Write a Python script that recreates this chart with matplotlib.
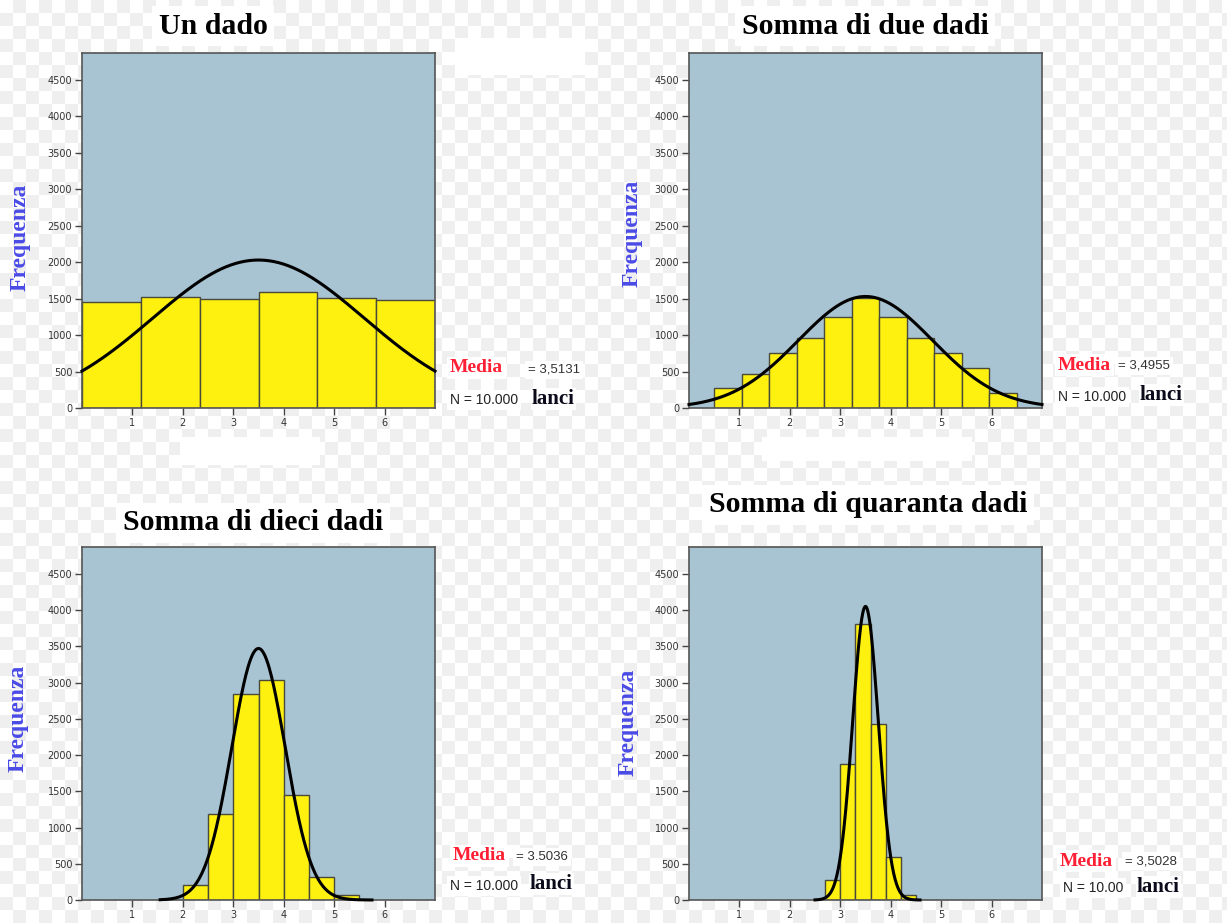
#Histograms of die rolls (1, 2, 10 and 40 dice) with a normal curve on top
import matplotlib.pyplot as plt
from matplotlib.patches import Rectangle
import numpy as np

W, H = 1227, 923

#titles and summary text
titles = ["Un dado", "Somma di due dadi", "Somma di dieci dadi", "Somma di quaranta dadi"]
means_txt = ["= 3,5131", "= 3,4955", "= 3.5036", "= 3,5028"]
n_txt = ["N = 10.000", "N = 10.000", "N = 10.000", "N = 10.00"]

#histogram bin edges (left edge of first bin, right edge of last) and counts
edges_1 = [0.0, 7.0]
counts_1 = [1450, 1520, 1490, 1590, 1515, 1485]
edges_2 = [0.5, 6.5]
counts_2 = [275, 470, 760, 960, 1245, 1510, 1245, 960, 760, 545, 210]
edges_10 = [2.0, 5.5]
counts_10 = [210, 1180, 2840, 3040, 1450, 315, 70]
edges_40 = [2.7, 4.5]
counts_40 = [270, 1870, 3810, 2430, 590, 70]

#normal curve: centre, spread, height, drawn range
curve_mu = [3.5, 3.5, 3.5, 3.5]
curve_sd = [2.1, 1.33, 0.53, 0.255]
curve_peak = [2030, 1530, 3470, 4050]
curve_range = [(0.0, 7.0), (0.0, 7.0), (1.55, 5.75), (2.5, 4.58)]

all_edges = [edges_1, edges_2, edges_10, edges_40]
all_counts = [counts_1, counts_2, counts_10, counts_40]

yticks = list(range(0, 5000, 500))
xticks = [1, 2, 3, 4, 5, 6]

fig = plt.figure(figsize=(W / 100, H / 100), dpi=100)

#checkerboard background (like a transparent screenshot)
bg = fig.add_axes([0, 0, 1, 1], zorder=-10)
cell = 13
ny, nx = H // cell + 1, W // cell + 1
checker = (np.indices((ny, nx)).sum(axis=0) % 2).astype(float)
bg.imshow(checker, cmap=plt.matplotlib.colors.ListedColormap(["#ffffff", "#efefef"]),
          extent=[0, nx * cell, ny * cell, 0], interpolation="nearest", aspect="auto")
bg.set_xlim(0, W)
bg.set_ylim(H, 0)
bg.axis("off")
#some white patches left over in the original picture
for (x0, y0, w, h) in [(455, 38, 130, 37), (180, 437, 140, 28), (762, 437, 210, 24)]:
    bg.add_patch(Rectangle((x0, y0), w, h, color="white", lw=0))

#axes boxes in pixels: left, top, right, bottom
boxes = [(82, 53, 435, 408), (689, 53, 1042, 408),
         (82, 547, 435, 900), (689, 547, 1042, 900)]
title_pos = [(213, 26), (865, 26), (253, 523), (868, 505)]
freq_pos = [(20, 237), (632, 233), (18, 718), (628, 722)]
media_pos = [(450, 368), (1058, 365), (453, 856), (1060, 861)]
eq_pos = [(528, 370), (1118, 366), (516, 857), (1125, 861)]
n_pos = [(450, 400), (1058, 397), (450, 886), (1063, 888)]
lanci_pos = [(532, 399), (1140, 395), (530, 884), (1137, 887)]

serif = ["Liberation Serif", "DejaVu Serif"]
sans = ["Liberation Sans", "DejaVu Sans"]

for i in range(4):
    l, t, r, b = boxes[i]
    ax = fig.add_axes([l / W, 1 - b / H, (r - l) / W, (b - t) / H])
    ax.set_facecolor("#a8c3d1")

    counts = all_counts[i]
    e = np.linspace(all_edges[i][0], all_edges[i][1], len(counts) + 1)
    ax.bar(e[:-1], counts, width=np.diff(e), align="edge",
           color="#fff10f", edgecolor="#4a4a3a", linewidth=1.0, zorder=2)

    x0, x1 = curve_range[i]
    xs = np.linspace(x0, x1, 300)
    ys = curve_peak[i] * np.exp(-0.5 * ((xs - curve_mu[i]) / curve_sd[i]) ** 2)
    ax.plot(xs, ys, color="black", lw=2.2, zorder=3, clip_on=False)

    ax.set_xlim(0, 7)
    ax.set_ylim(0, 4870)
    ax.set_xticks(xticks)
    ax.set_yticks(yticks)
    ax.tick_params(direction="out", length=5, width=1, color="#444444",
                   labelsize=7, labelcolor="#333333", pad=2)
    for s in ax.spines.values():
        s.set_color("#555555")
        s.set_linewidth(1.2)

    #title with white box behind it
    fig.text(title_pos[i][0] / W, 1 - title_pos[i][1] / H, titles[i],
             ha="center", va="center", fontsize=21.5, fontweight="bold", family=serif,
             bbox=dict(facecolor="white", edgecolor="none", pad=5))
    fig.text(freq_pos[i][0] / W, 1 - freq_pos[i][1] / H, "Frequenza",
             ha="center", va="center", rotation=90, fontsize=17, fontweight="bold",
             family=serif, color="#4a4ae6")
    fig.text(media_pos[i][0] / W, 1 - media_pos[i][1] / H, "Media",
             ha="left", va="center", fontsize=14, fontweight="bold", family=serif,
             color="#ff2035", bbox=dict(facecolor="white", edgecolor="none", pad=2))
    fig.text(eq_pos[i][0] / W, 1 - eq_pos[i][1] / H, means_txt[i],
             ha="left", va="center", fontsize=9.5, color="#333333", family=sans,
             bbox=dict(facecolor="white", edgecolor="none", pad=2))
    fig.text(n_pos[i][0] / W, 1 - n_pos[i][1] / H, n_txt[i],
             ha="left", va="center", fontsize=10, color="#222222", family=sans,
             bbox=dict(facecolor="white", edgecolor="none", pad=2))
    fig.text(lanci_pos[i][0] / W, 1 - lanci_pos[i][1] / H, "lanci",
             ha="left", va="center", fontsize=15, fontweight="bold", family=serif,
             color="#0a0a1a", bbox=dict(facecolor="white", edgecolor="none", pad=1))

fig.savefig("out.png", dpi=100)
